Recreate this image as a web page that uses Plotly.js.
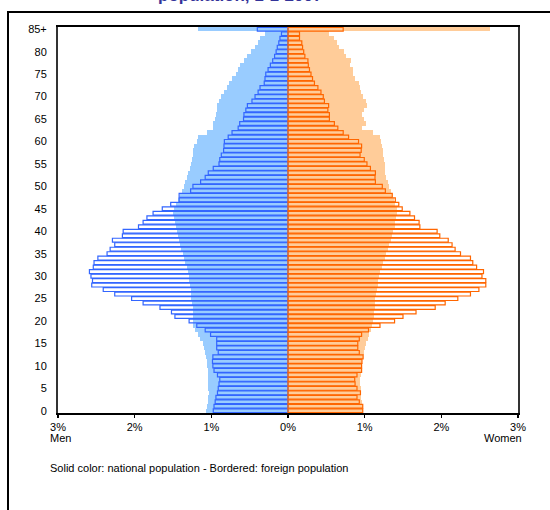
<!DOCTYPE html>
<html><head><meta charset="utf-8">
<script src="https://cdn.plot.ly/plotly-3.0.1.min.js"></script>
<style>
html,body{margin:0;padding:0;background:#fff;overflow:hidden;}
#frame{position:absolute;left:7px;top:11px;width:600px;height:600px;border-left:2px solid #000;border-top:2px solid #000;}
#chart{position:absolute;left:0;top:0;width:550px;height:510px;}
</style>
</head><body><div id="frame"></div><div id="chart"></div>
<script>
const ages = [0,1,2,3,4,5,6,7,8,9,10,11,12,13,14,15,16,17,18,19,20,21,22,23,24,25,26,27,28,29,
  30,31,32,33,34,35,36,37,38,39,40,41,42,43,44,45,46,47,48,49,50,51,52,53,54,55,56,57,58,59,
  60,61,62,63,64,65,66,67,68,69,70,71,72,73,74,75,76,77,78,79,80,81,82,83,84,85];
const yTickVals = [0,5,10,15,20,25,30,35,40,45,50,55,60,65,70,75,80,85];
const yTickText = ['0','5','10','15','20','25','30','35','40','45','50','55','60','65','70','75','80','85+'];
const xTickVals = [-3,-2,-1,0,1,2,3];
const xTickText = ['3%','2%','1%','0%','1%','2%','3%'];

// % of population, by single year of age (index = age, last = 85+)
const menNational = [1.07,1.06,1.05,1.04,1.035,1.04,1.04,1.045,1.05,1.05,
 1.06,1.06,1.07,1.08,1.09,1.11,1.15,1.18,1.21,1.24,
 1.24,1.24,1.24,1.245,1.25,1.26,1.265,1.27,1.28,1.285,
 1.29,1.30,1.32,1.34,1.36,1.37,1.39,1.41,1.42,1.44,
 1.45,1.46,1.48,1.49,1.50,1.49,1.46,1.44,1.41,1.38,
 1.36,1.34,1.32,1.30,1.28,1.26,1.25,1.24,1.24,1.22,
 1.19,1.17,1.06,0.98,0.975,0.95,0.94,0.93,0.93,0.90,
 0.87,0.83,0.80,0.77,0.73,0.68,0.65,0.62,0.57,0.53,
 0.48,0.43,0.39,0.36,0.30,1.17];
const menForeign = [0.975,0.965,0.95,0.94,0.92,0.91,0.90,0.89,0.92,0.965,
 0.98,0.985,0.98,0.91,0.93,0.93,0.93,1.01,1.08,1.19,
 1.29,1.475,1.52,1.67,1.89,2.04,2.26,2.41,2.56,2.55,
 2.57,2.59,2.54,2.53,2.48,2.36,2.32,2.26,2.29,2.16,
 2.15,1.95,1.89,1.84,1.76,1.64,1.53,1.42,1.42,1.27,
 1.24,1.14,1.08,1.04,0.975,0.90,0.89,0.87,0.84,0.835,
 0.83,0.78,0.73,0.65,0.63,0.58,0.575,0.55,0.53,0.47,
 0.43,0.39,0.365,0.31,0.30,0.29,0.26,0.23,0.20,0.175,
 0.155,0.14,0.12,0.105,0.085,0.40];
const womenNational = [0.98,0.975,0.965,0.95,0.95,0.95,0.94,0.94,0.95,0.96,
 0.96,0.97,0.98,0.99,1.00,1.02,1.04,1.06,1.08,1.10,
 1.11,1.12,1.12,1.13,1.13,1.14,1.15,1.16,1.17,1.18,
 1.19,1.20,1.22,1.24,1.26,1.28,1.30,1.32,1.34,1.35,
 1.37,1.39,1.40,1.41,1.42,1.42,1.40,1.38,1.36,1.34,
 1.32,1.30,1.28,1.27,1.26,1.26,1.25,1.245,1.24,1.23,
 1.21,1.20,1.105,0.965,1.02,0.99,0.965,0.995,1.03,1.02,
 0.98,0.95,0.94,0.92,0.88,0.845,0.845,0.81,0.82,0.76,
 0.73,0.67,0.635,0.60,0.54,2.64];
const womenForeign = [0.975,0.975,0.93,0.90,0.945,0.90,0.875,0.87,0.90,0.96,
 0.96,0.965,0.98,0.93,0.91,0.91,0.93,0.96,1.05,1.20,
 1.39,1.50,1.67,1.92,2.05,2.215,2.38,2.49,2.58,2.58,
 2.53,2.55,2.46,2.41,2.38,2.25,2.18,2.14,2.09,1.98,
 1.945,1.72,1.71,1.65,1.59,1.49,1.445,1.40,1.36,1.27,
 1.23,1.14,1.135,1.14,1.075,1.03,0.995,0.94,0.955,0.96,
 0.92,0.79,0.72,0.65,0.605,0.54,0.54,0.52,0.53,0.475,
 0.46,0.43,0.39,0.345,0.32,0.30,0.28,0.265,0.26,0.22,
 0.205,0.19,0.18,0.15,0.15,0.72];

const FONT = 'Liberation Sans, Arial, sans-serif';
const neg = a => a.map(v => -v);
const yRange = [-0.5, 85.5];
const gridVals = yTickVals.slice(1).map(v => v - 0.5);

const traces = [
  {type:'bar', orientation:'h', y:ages, x:neg(menNational), width:1,
   marker:{color:'#99CCFF', line:{width:0}}, name:'Men national', hoverinfo:'skip'},
  {type:'bar', orientation:'h', y:ages, x:womenNational, width:1,
   marker:{color:'#FFCC99', line:{width:0}}, name:'Women national', hoverinfo:'skip'},
  {type:'bar', orientation:'h', y:ages, x:neg(menForeign), width:0.86,
   marker:{color:'rgba(0,0,0,0)', line:{color:'#3366FF', width:1.2}}, name:'Men foreign', hoverinfo:'skip'},
  {type:'bar', orientation:'h', y:ages, x:womenForeign, width:0.86,
   marker:{color:'rgba(0,0,0,0)', line:{color:'#FF6600', width:1.2}}, name:'Women foreign', hoverinfo:'skip'}
];

const layout = {
  width:550, height:510,
  margin:{l:58, r:32, t:27, b:97, pad:0},
  paper_bgcolor:'rgba(0,0,0,0)', plot_bgcolor:'#fff',
  barmode:'overlay', bargap:0, showlegend:false,
  font:{family:FONT, size:11, color:'#000'},
  xaxis:{range:[-3,3], tickvals:xTickVals, ticktext:xTickText, ticks:'outside', ticklen:3,
    tickcolor:'#000', tickwidth:1.5, showline:true, linecolor:'#000', linewidth:2, mirror:true,
    showgrid:false, zeroline:false, tickfont:{family:FONT, size:11, color:'#000'}, fixedrange:true},
  xaxis2:{range:[-3,3], overlaying:'x', anchor:'y', tickvals:xTickVals, ticks:'inside', ticklen:3,
    tickcolor:'#000', tickwidth:1.5, showticklabels:false, showgrid:false, zeroline:false, showline:false},
  yaxis:{range:yRange, tickvals:yTickVals, ticktext:yTickText, ticks:'', showline:true,
    linecolor:'#333', linewidth:2, mirror:true, showgrid:false, zeroline:false, ticklabelstandoff:7,
    tickfont:{family:FONT, size:11, color:'#000'}, fixedrange:true},
  yaxis2:{range:yRange, overlaying:'y', anchor:'x', tickvals:gridVals, showgrid:true,
    gridcolor:'#c8c8c8', gridwidth:1, showticklabels:false, ticks:'', zeroline:false, showline:false},
  yaxis3:{range:yRange, overlaying:'y', anchor:'free', position:0.5, showline:true,
    linecolor:'#333', linewidth:1.5, showticklabels:false, ticks:'', showgrid:false, zeroline:false},
  annotations:[
    {text:'<b>population, 1-1-2007</b>', xref:'paper', yref:'paper', x:0.396, y:1.055,
     xanchor:'center', yanchor:'bottom', showarrow:false, borderpad:0,
     font:{family:FONT, size:17, color:'#333399'}},
    {text:'Men', xref:'paper', yref:'paper', x:-0.022, y:-0.065, xanchor:'left', yanchor:'middle',
     showarrow:false, font:{family:FONT, size:11, color:'#000'}},
    {text:'Women', xref:'paper', yref:'paper', x:1.013, y:-0.065, xanchor:'right', yanchor:'middle',
     showarrow:false, font:{family:FONT, size:11, color:'#000'}},
    {text:'Solid color: national population - Bordered: foreign population', xref:'paper', yref:'paper',
     x:-0.022, y:-0.143, xanchor:'left', yanchor:'middle', showarrow:false,
     font:{family:FONT, size:11, color:'#000'}}
  ]
};

Plotly.newPlot('chart', traces, layout, {displayModeBar:false, staticPlot:true});
</script>
</body></html>
